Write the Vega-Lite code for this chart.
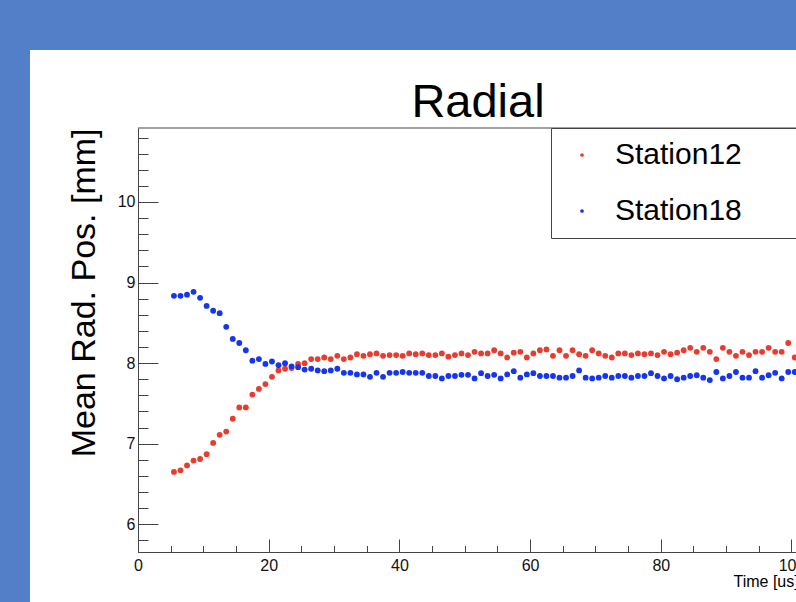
{
  "$schema": "https://vega.github.io/schema/vega-lite/v6.json",
  "width": 658,
  "height": 424,
  "autosize": {"type": "none"},
  "padding": {"left": 138, "top": 128, "right": 0, "bottom": 50},
  "background": "#537fc8",
  "title": {"text": "Radial", "fontSize": 47, "font": "Liberation Sans", "fontWeight": "normal", "color": "#000000", "anchor": "middle", "frame": "group", "dx": 11, "offset": -114, "baseline": "alphabetic"},
  "config": {
    "view": {"stroke": null},
    "font": "Liberation Sans",
    "axis": {"zindex": 1, "grid": false, "domainColor": "#444444", "domainWidth": 1, "tickColor": "#444444", "tickWidth": 1, "labelColor": "#111111", "labelFont": "Liberation Sans", "labelFontSize": 16, "titleFont": "Liberation Sans", "titleFontWeight": "normal", "titleColor": "#000000"}
  },
  "resolve": {"axis": {"x": "independent", "y": "independent"}},
  "layer": [
    {
      "data": {"values": [{}]},
      "mark": {"type": "rect", "fill": "white", "clip": false},
      "encoding": {
        "x": {"datum": -16.53, "type": "quantitative", "scale": {"domain": [0, 100.69], "nice": false, "zero": false},
              "axis": {"orient": "bottom", "zindex": 2, "values": [0,5,10,15,20,25,30,35,40,45,50,55,60,65,70,75,80,85,90,95,100], "tickSize": -6.5, "labels": false, "domain": false, "title": null}},
        "x2": {"datum": 130},
        "y": {"datum": 11.886, "type": "quantitative", "scale": {"domain": [5.656, 10.918], "nice": false, "zero": false},
              "axis": {"orient": "left", "zindex": 2, "values": [5.8,6,6.2,6.4,6.6,6.8,7,7.2,7.4,7.6,7.8,8,8.2,8.4,8.6,8.8,9,9.2,9.4,9.6,9.8,10,10.2,10.4,10.6,10.8], "tickSize": -10, "labels": false, "domain": false, "title": null}},
        "y2": {"datum": 4.5}
      }
    },
    {
      "data": {"values": [
        {"t":5.5,"s":"Station12","v":6.65},{"t":6.5,"s":"Station12","v":6.67},{"t":7.5,"s":"Station12","v":6.73},{"t":8.5,"s":"Station12","v":6.79},{"t":9.5,"s":"Station12","v":6.81},
        {"t":10.5,"s":"Station12","v":6.87},{"t":11.5,"s":"Station12","v":7.01},{"t":12.5,"s":"Station12","v":7.11},{"t":13.5,"s":"Station12","v":7.15},{"t":14.5,"s":"Station12","v":7.31},
        {"t":15.5,"s":"Station12","v":7.45},{"t":16.5,"s":"Station12","v":7.45},{"t":17.5,"s":"Station12","v":7.61},{"t":18.5,"s":"Station12","v":7.68},{"t":19.5,"s":"Station12","v":7.74},
        {"t":20.5,"s":"Station12","v":7.83},{"t":21.5,"s":"Station12","v":7.91},{"t":22.5,"s":"Station12","v":7.93},{"t":23.5,"s":"Station12","v":7.94},{"t":24.5,"s":"Station12","v":7.99},
        {"t":25.5,"s":"Station12","v":8.00},{"t":26.5,"s":"Station12","v":8.05},{"t":27.5,"s":"Station12","v":8.05},{"t":28.5,"s":"Station12","v":8.07},{"t":29.5,"s":"Station12","v":8.05},
        {"t":30.5,"s":"Station12","v":8.09},{"t":31.5,"s":"Station12","v":8.05},{"t":32.5,"s":"Station12","v":8.07},{"t":33.5,"s":"Station12","v":8.11},{"t":34.5,"s":"Station12","v":8.09},
        {"t":35.5,"s":"Station12","v":8.11},{"t":36.5,"s":"Station12","v":8.12},{"t":37.5,"s":"Station12","v":8.09},{"t":38.5,"s":"Station12","v":8.10},{"t":39.5,"s":"Station12","v":8.10},
        {"t":40.5,"s":"Station12","v":8.09},{"t":41.5,"s":"Station12","v":8.12},{"t":42.5,"s":"Station12","v":8.11},{"t":43.5,"s":"Station12","v":8.12},{"t":44.5,"s":"Station12","v":8.10},
        {"t":45.5,"s":"Station12","v":8.10},{"t":46.5,"s":"Station12","v":8.12},{"t":47.5,"s":"Station12","v":8.08},{"t":48.5,"s":"Station12","v":8.10},{"t":49.5,"s":"Station12","v":8.12},
        {"t":50.5,"s":"Station12","v":8.10},{"t":51.5,"s":"Station12","v":8.14},{"t":52.5,"s":"Station12","v":8.12},{"t":53.5,"s":"Station12","v":8.12},{"t":54.5,"s":"Station12","v":8.16},
        {"t":55.5,"s":"Station12","v":8.12},{"t":56.5,"s":"Station12","v":8.07},{"t":57.5,"s":"Station12","v":8.13},{"t":58.5,"s":"Station12","v":8.14},{"t":59.5,"s":"Station12","v":8.07},
        {"t":60.5,"s":"Station12","v":8.12},{"t":61.5,"s":"Station12","v":8.16},{"t":62.5,"s":"Station12","v":8.17},{"t":63.5,"s":"Station12","v":8.09},{"t":64.5,"s":"Station12","v":8.16},
        {"t":65.5,"s":"Station12","v":8.09},{"t":66.5,"s":"Station12","v":8.16},{"t":67.5,"s":"Station12","v":8.11},{"t":68.5,"s":"Station12","v":8.09},{"t":69.5,"s":"Station12","v":8.16},
        {"t":70.5,"s":"Station12","v":8.12},{"t":71.5,"s":"Station12","v":8.09},{"t":72.5,"s":"Station12","v":8.07},{"t":73.5,"s":"Station12","v":8.12},{"t":74.5,"s":"Station12","v":8.12},
        {"t":75.5,"s":"Station12","v":8.10},{"t":76.5,"s":"Station12","v":8.12},{"t":77.5,"s":"Station12","v":8.11},{"t":78.5,"s":"Station12","v":8.12},{"t":79.5,"s":"Station12","v":8.10},
        {"t":80.5,"s":"Station12","v":8.14},{"t":81.5,"s":"Station12","v":8.11},{"t":82.5,"s":"Station12","v":8.13},{"t":83.5,"s":"Station12","v":8.16},{"t":84.5,"s":"Station12","v":8.19},
        {"t":85.5,"s":"Station12","v":8.14},{"t":86.5,"s":"Station12","v":8.19},{"t":87.5,"s":"Station12","v":8.14},{"t":88.5,"s":"Station12","v":8.05},{"t":89.5,"s":"Station12","v":8.19},
        {"t":90.5,"s":"Station12","v":8.14},{"t":91.5,"s":"Station12","v":8.09},{"t":92.5,"s":"Station12","v":8.14},{"t":93.5,"s":"Station12","v":8.10},{"t":94.5,"s":"Station12","v":8.14},
        {"t":95.5,"s":"Station12","v":8.14},{"t":96.5,"s":"Station12","v":8.19},{"t":97.5,"s":"Station12","v":8.14},{"t":98.5,"s":"Station12","v":8.14},{"t":99.5,"s":"Station12","v":8.25},
        {"t":100.5,"s":"Station12","v":8.07},
        {"t":5.5,"s":"Station18","v":8.835},{"t":6.5,"s":"Station18","v":8.835},{"t":7.5,"s":"Station18","v":8.85},{"t":8.5,"s":"Station18","v":8.885},{"t":9.5,"s":"Station18","v":8.81},
        {"t":10.5,"s":"Station18","v":8.71},{"t":11.5,"s":"Station18","v":8.65},{"t":12.5,"s":"Station18","v":8.62},{"t":13.5,"s":"Station18","v":8.45},{"t":14.5,"s":"Station18","v":8.30},
        {"t":15.5,"s":"Station18","v":8.25},{"t":16.5,"s":"Station18","v":8.16},{"t":17.5,"s":"Station18","v":8.03},{"t":18.5,"s":"Station18","v":8.05},{"t":19.5,"s":"Station18","v":7.99},
        {"t":20.5,"s":"Station18","v":8.02},{"t":21.5,"s":"Station18","v":7.975},{"t":22.5,"s":"Station18","v":8.00},{"t":23.5,"s":"Station18","v":7.96},{"t":24.5,"s":"Station18","v":7.95},
        {"t":25.5,"s":"Station18","v":7.92},{"t":26.5,"s":"Station18","v":7.93},{"t":27.5,"s":"Station18","v":7.91},{"t":28.5,"s":"Station18","v":7.90},{"t":29.5,"s":"Station18","v":7.91},
        {"t":30.5,"s":"Station18","v":7.93},{"t":31.5,"s":"Station18","v":7.88},{"t":32.5,"s":"Station18","v":7.88},{"t":33.5,"s":"Station18","v":7.86},{"t":34.5,"s":"Station18","v":7.86},
        {"t":35.5,"s":"Station18","v":7.83},{"t":36.5,"s":"Station18","v":7.88},{"t":37.5,"s":"Station18","v":7.83},{"t":38.5,"s":"Station18","v":7.88},{"t":39.5,"s":"Station18","v":7.88},
        {"t":40.5,"s":"Station18","v":7.89},{"t":41.5,"s":"Station18","v":7.88},{"t":42.5,"s":"Station18","v":7.88},{"t":43.5,"s":"Station18","v":7.88},{"t":44.5,"s":"Station18","v":7.84},
        {"t":45.5,"s":"Station18","v":7.84},{"t":46.5,"s":"Station18","v":7.81},{"t":47.5,"s":"Station18","v":7.84},{"t":48.5,"s":"Station18","v":7.84},{"t":49.5,"s":"Station18","v":7.855},
        {"t":50.5,"s":"Station18","v":7.855},{"t":51.5,"s":"Station18","v":7.81},{"t":52.5,"s":"Station18","v":7.875},{"t":53.5,"s":"Station18","v":7.84},{"t":54.5,"s":"Station18","v":7.855},
        {"t":55.5,"s":"Station18","v":7.81},{"t":56.5,"s":"Station18","v":7.86},{"t":57.5,"s":"Station18","v":7.90},{"t":58.5,"s":"Station18","v":7.82},{"t":59.5,"s":"Station18","v":7.86},
        {"t":60.5,"s":"Station18","v":7.875},{"t":61.5,"s":"Station18","v":7.84},{"t":62.5,"s":"Station18","v":7.84},{"t":63.5,"s":"Station18","v":7.84},{"t":64.5,"s":"Station18","v":7.82},
        {"t":65.5,"s":"Station18","v":7.82},{"t":66.5,"s":"Station18","v":7.84},{"t":67.5,"s":"Station18","v":7.91},{"t":68.5,"s":"Station18","v":7.82},{"t":69.5,"s":"Station18","v":7.81},
        {"t":70.5,"s":"Station18","v":7.82},{"t":71.5,"s":"Station18","v":7.84},{"t":72.5,"s":"Station18","v":7.82},{"t":73.5,"s":"Station18","v":7.84},{"t":74.5,"s":"Station18","v":7.84},
        {"t":75.5,"s":"Station18","v":7.82},{"t":76.5,"s":"Station18","v":7.84},{"t":77.5,"s":"Station18","v":7.84},{"t":78.5,"s":"Station18","v":7.875},{"t":79.5,"s":"Station18","v":7.84},
        {"t":80.5,"s":"Station18","v":7.81},{"t":81.5,"s":"Station18","v":7.84},{"t":82.5,"s":"Station18","v":7.80},{"t":83.5,"s":"Station18","v":7.82},{"t":84.5,"s":"Station18","v":7.84},
        {"t":85.5,"s":"Station18","v":7.85},{"t":86.5,"s":"Station18","v":7.82},{"t":87.5,"s":"Station18","v":7.79},{"t":88.5,"s":"Station18","v":7.89},{"t":89.5,"s":"Station18","v":7.81},
        {"t":90.5,"s":"Station18","v":7.84},{"t":91.5,"s":"Station18","v":7.89},{"t":92.5,"s":"Station18","v":7.82},{"t":93.5,"s":"Station18","v":7.82},{"t":94.5,"s":"Station18","v":7.90},
        {"t":95.5,"s":"Station18","v":7.82},{"t":96.5,"s":"Station18","v":7.85},{"t":97.5,"s":"Station18","v":7.88},{"t":98.5,"s":"Station18","v":7.81},{"t":99.5,"s":"Station18","v":7.89},
        {"t":100.5,"s":"Station18","v":7.89}
      ]},
      "mark": {"type": "circle", "size": 34, "opacity": 1},
      "encoding": {
        "x": {"field": "t", "type": "quantitative", "scale": {"domain": [0, 100.69], "nice": false, "zero": false},
              "axis": {"orient": "bottom", "zindex": 2, "values": [0,20,40,60,80,100], "tickSize": -13, "labelPadding": 18, "labelBaseline": "top", "labelFlush": false, "labelOverlap": false,
                       "title": "Time [us]", "titleFontSize": 16, "titleX": 595, "titleY": 34, "titleAlign": "left", "titleBaseline": "alphabetic", "titleAngle": 0}},
        "y": {"field": "v", "type": "quantitative", "scale": {"domain": [5.656, 10.918], "nice": false, "zero": false},
              "axis": {"orient": "left", "zindex": 2, "values": [6,7,8,9,10], "tickSize": -20, "labelPadding": 23, "labelBaseline": "middle", "labelOverlap": false,
                       "title": "Mean Rad. Pos. [mm]", "titleFontSize": 34, "titleAngle": 270, "titleX": -44, "titleY": 0, "titleAlign": "right", "titleBaseline": "alphabetic"}},
        "color": {"field": "s", "type": "nominal",
                  "scale": {"domain": ["Station12", "Station18"], "range": ["#ea3b2f", "#1634f3"]},
                  "legend": {"orient": "none", "legendX": 413, "legendY": 0, "title": " ", "titleOrient": "right", "titlePadding": 70,
                             "strokeColor": "#444444", "fillColor": "white", "padding": 12, "labelFontSize": 30, "labelColor": "#000000", "labelFont": "Liberation Sans",
                             "symbolSize": 14, "symbolType": "circle", "symbolOffset": 4, "labelOffset": 18, "rowPadding": 26}}
      }
    },
    {
      "data": {"values": [{}]},
      "mark": {"type": "rule", "color": "#444444", "strokeWidth": 1},
      "encoding": {"y": {"datum": 10.918, "type": "quantitative", "scale": {"domain": [5.656, 10.918], "nice": false, "zero": false}, "axis": null}}
    }
  ]
}
